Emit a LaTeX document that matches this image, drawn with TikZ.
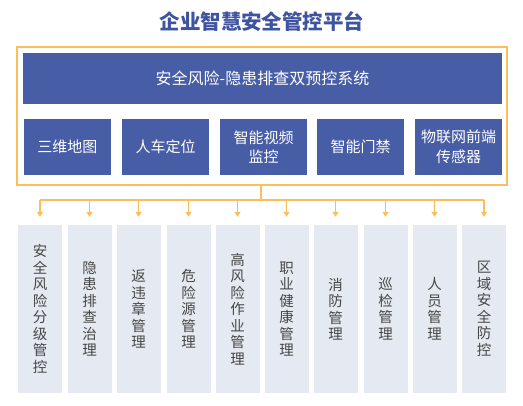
\documentclass[tikz,border=0pt]{standalone}
\usepackage{fontspec}
\setmainfont{Noto Sans CJK SC}
\usetikzlibrary{arrows.meta}
\definecolor{tblue}{RGB}{63,84,160}
\definecolor{bblue}{RGB}{71,93,166}
\definecolor{org}{RGB}{251,190,92}
\definecolor{gbox}{RGB}{229,234,242}
\definecolor{gtext}{RGB}{70,70,70}
\tikzset{
  bluebox/.style={fill=bblue,draw=none,text=white,inner sep=0pt,align=center,font=\fontsize{15}{19.5}\selectfont},
  smallbox/.style={bluebox,minimum width=87pt,minimum height=56pt},
  graybox/.style={fill=gbox,draw=none,text=gtext,inner sep=0pt,align=center,minimum width=44pt,minimum height=168pt,font=\fontsize{14.5}{16.5}\selectfont},
  orline/.style={draw=org,line width=1.4pt},
  orarrow/.style={orline,-{Triangle[width=6pt,length=5pt]}}
}
\begin{document}
\begin{tikzpicture}[x=1pt,y=-1pt]
\useasboundingbox[fill=white] (0,0) rectangle (523,406);
\node[font=\fontsize{20.5}{24}\selectfont\bfseries,text=tblue] (title) at (262,22) {企业智慧安全管控平台};
\node[draw=org,line width=1.2pt,minimum width=490pt,minimum height=138pt,inner sep=0pt] (outer) at (262,116) {};
\node[bluebox,minimum width=479pt,minimum height=51pt,font=\fontsize{16}{19}\selectfont] (sys) at (262.5,78.5) {安全风险-隐患排查双预控系统};
\node[smallbox] (b1) at (67.5,147) {三维地图};
\node[smallbox] (b2) at (165.5,147) {人车定位};
\node[smallbox] (b3) at (263.5,147) {智能视频\\监控};
\node[smallbox] (b4) at (360.5,147) {智能门禁};
\node[smallbox] (b5) at (458.5,147) {物联网前端\\传感器};
\node[graybox] (g1) at (40,309) {安\\全\\风\\险\\分\\级\\管\\控};
\node[graybox] (g2) at (89.5,309) {隐\\患\\排\\查\\治\\理};
\node[graybox] (g3) at (138.5,309) {返\\违\\章\\管\\理};
\node[graybox] (g4) at (188.5,309) {危\\险\\源\\管\\理};
\node[graybox] (g5) at (237.5,309) {高\\风\\险\\作\\业\\管\\理};
\node[graybox] (g6) at (286.5,309) {职\\业\\健\\康\\管\\理};
\node[graybox] (g7) at (335.5,309) {消\\防\\管\\理};
\node[graybox] (g8) at (385.5,309) {巡\\检\\管\\理};
\node[graybox] (g9) at (434.5,309) {人\\员\\管\\理};
\node[graybox] (g10) at (484,309) {区\\域\\安\\全\\防\\控};
\coordinate (j) at (261,200);
\coordinate (hl) at (40,200);
\coordinate (hr) at (484,200);
\draw[orline] (outer.south -| j) -- (j);
\draw[orline] (hl) -- (hr);
\foreach \g in {g1,g2,g3,g4,g5,g6,g7,g8,g9,g10}{
  \draw[orarrow] (\g.north |- j) -- ([yshift=8pt]\g.north);
}
\end{tikzpicture}
\end{document}
